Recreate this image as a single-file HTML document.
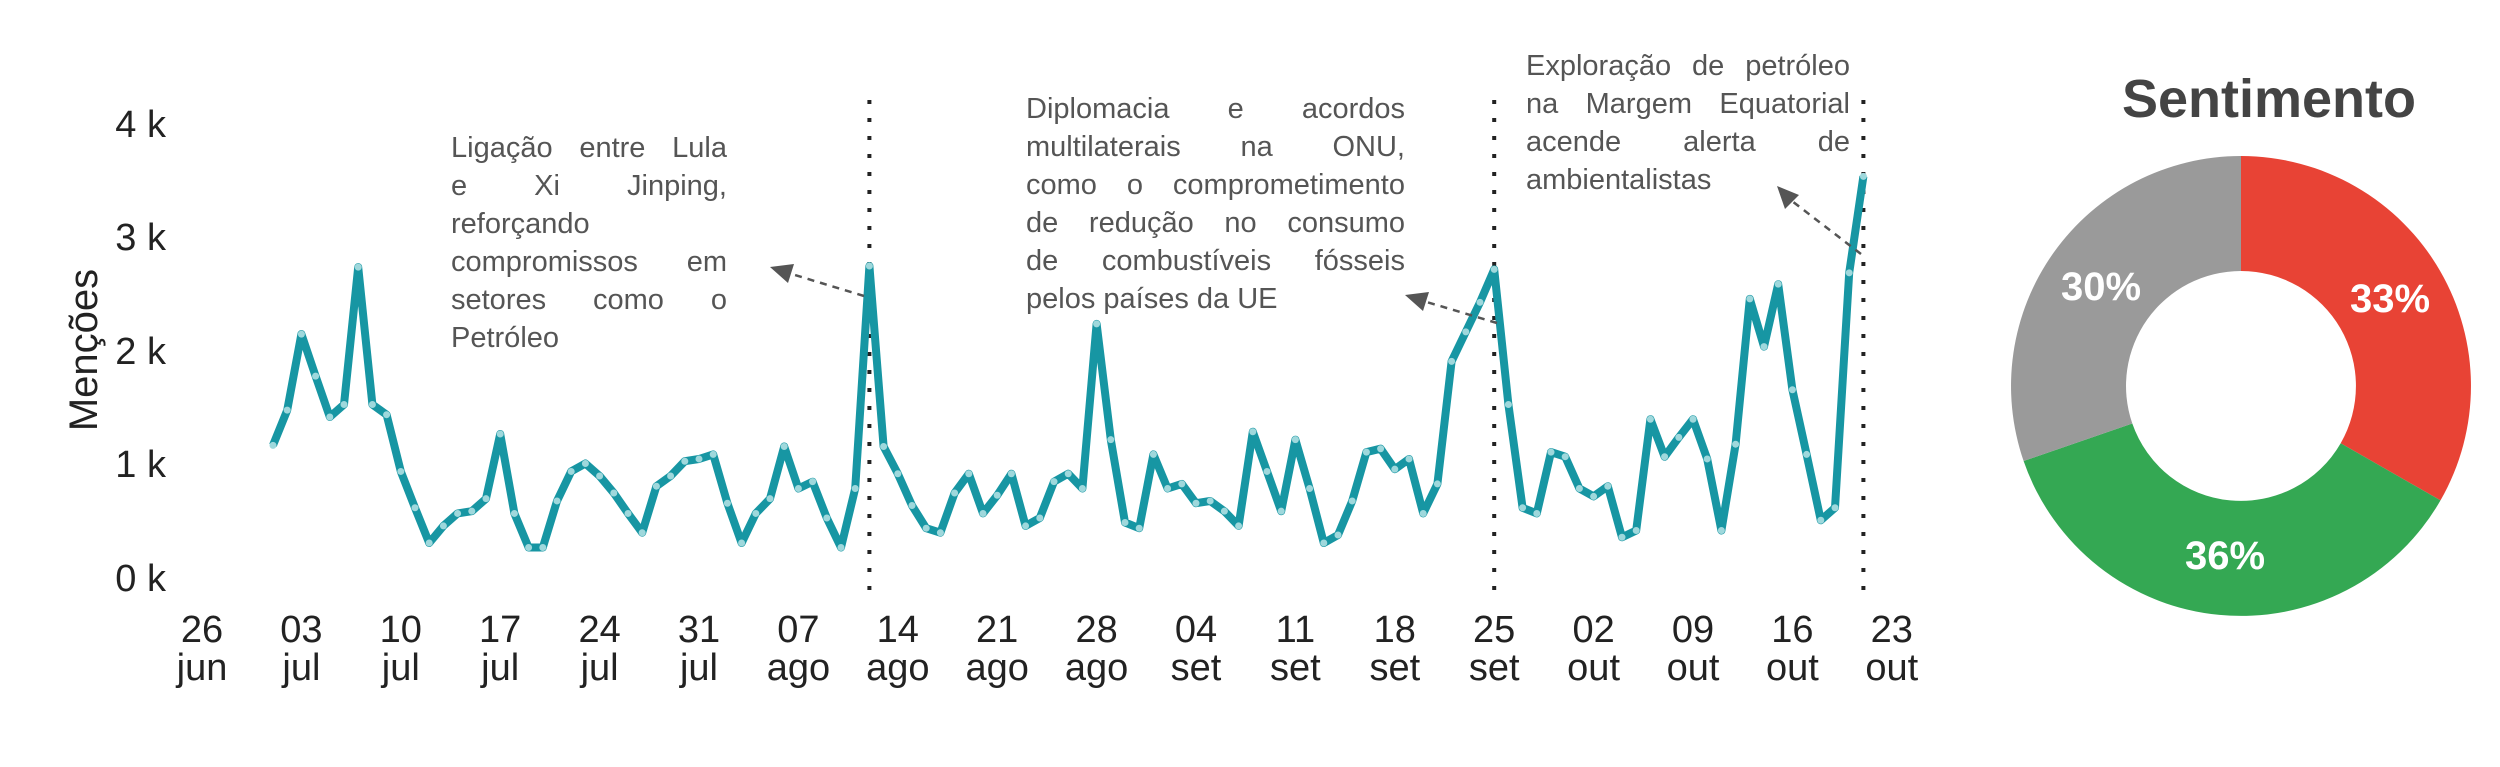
<!DOCTYPE html>
<html><head><meta charset="utf-8">
<style>
html,body{margin:0;padding:0;background:#fff;}
#wrap{position:relative;width:2500px;height:767px;overflow:hidden;font-family:"Liberation Sans",sans-serif;}
svg{position:absolute;left:0;top:0;}
.ann{position:absolute;color:#555;font-size:29px;line-height:38px;}
.ann div{text-align:justify;text-align-last:justify;white-space:nowrap;}
.ann div.l{text-align-last:left;}
</style></head><body>
<div id="wrap">
<svg id="s" width="2500" height="767" viewBox="0 0 2500 767" font-family="Liberation Sans, sans-serif">
<g font-size="38" fill="#222" text-anchor="end">
<text x="166" y="591">0 k</text>
<text x="166" y="477">1 k</text>
<text x="166" y="364">2 k</text>
<text x="166" y="250">3 k</text>
<text x="166" y="137">4 k</text>
</g>
<text transform="translate(97,350) rotate(-90)" font-size="40" fill="#222" text-anchor="middle">Menções</text>
<g id="xt" font-size="38" fill="#222" text-anchor="middle"></g>
<g id="vl" stroke="#222" stroke-width="4" stroke-dasharray="4 14" fill="none"></g>
<polyline id="ln" fill="none" stroke="#1796a3" stroke-width="8" stroke-linejoin="round" points=""/>
<g id="mk" fill="#9fd8dc"></g>
<g stroke="#555" stroke-width="2.5" stroke-dasharray="7 6" fill="none">
<line x1="864" y1="296" x2="785" y2="272"/>
<line x1="1497" y1="323" x2="1420" y2="300"/>
<line x1="1861" y1="254" x2="1788" y2="198"/>
</g>
<g fill="#555">
<polygon points="770,267 794,264 788,283"/>
<polygon points="1405,295 1429,292 1423,311"/>
<polygon points="1777,186 1799,195 1785,209"/>
</g>
<g transform="translate(2241,386)">
<path d="M0,-230 A230,230 0 0 1 199.5,114.4 L99.7,57.2 A115,115 0 0 0 0,-115 Z" fill="#e84335"/>
<path d="M199.5,114.4 A230,230 0 0 1 -217.4,75.0 L-108.7,37.5 A115,115 0 0 0 99.7,57.2 Z" fill="#34a853"/>
<path d="M-217.4,75.0 A230,230 0 0 1 0,-230 L0,-115 A115,115 0 0 0 -108.7,37.5 Z" fill="#9a9a9a"/>
</g>
<g font-size="40" font-weight="bold" fill="#fff" text-anchor="middle">
<text x="2390" y="312">33%</text>
<text x="2101" y="300">30%</text>
<text x="2225" y="569">36%</text>
</g>
<text x="2269" y="117" font-size="54" font-weight="bold" fill="#444" text-anchor="middle">Sentimento</text>
</svg>
<div class="ann" style="left:451px;top:129px;width:276px;">
<div>Ligação entre Lula</div><div>e Xi Jinping,</div><div class="l">reforçando</div><div>compromissos em</div><div>setores como o</div><div class="l">Petróleo</div>
</div>
<div class="ann" style="left:1026px;top:90px;width:379px;">
<div>Diplomacia e acordos</div><div>multilaterais na ONU,</div><div>como o comprometimento</div><div>de redução no consumo</div><div>de combustíveis fósseis</div><div class="l">pelos países da UE</div>
</div>
<div class="ann" style="left:1526px;top:47px;width:324px;">
<div>Exploração de petróleo</div><div>na Margem Equatorial</div><div>acende alerta de</div><div class="l">ambientalistas</div>
</div>
</div>
<script>
var v=[1.16,1.47,2.14,1.77,1.41,1.52,2.73,1.52,1.43,0.93,0.61,0.30,0.45,0.56,0.58,0.69,1.26,0.56,0.26,0.26,0.67,0.93,1.0,0.89,0.74,0.56,0.39,0.80,0.89,1.02,1.04,
1.08,0.65,0.30,0.56,0.69,1.15,0.78,0.84,0.52,0.26,0.78,2.74,1.15,0.91,0.63,0.43,0.39,0.74,0.91,0.56,0.72,0.91,0.45,0.52,0.84,0.91,0.78,2.23,1.21,0.48,0.43,
1.08,0.78,0.82,0.65,0.67,0.58,0.45,1.28,0.93,0.58,1.21,0.78,0.30,0.37,0.67,1.10,1.13,0.95,1.04,0.56,0.82,1.90,2.16,2.42,2.71,1.52,0.61,0.56,1.10,1.06,
0.78,0.71,0.80,0.35,0.41,1.39,1.06,1.23,1.39,1.04,0.41,1.17,2.45,2.03,2.58,1.65,1.08,0.50,0.61,2.68,3.53];
var NS="http://www.w3.org/2000/svg";
function X(d){return 202+d*14.2;}
function Y(a){return 577-a*113.5;}
var pts=[],mk=document.getElementById('mk');
for(var i=0;i<v.length;i++){var x=X(5+i),y=Y(v[i]);pts.push(x.toFixed(1)+','+y.toFixed(1));
var c=document.createElementNS(NS,'circle');c.setAttribute('cx',x);c.setAttribute('cy',y);c.setAttribute('r',3.5);mk.appendChild(c);}
document.getElementById('ln').setAttribute('points',pts.join(' '));
var lab=[["26","jun"],["03","jul"],["10","jul"],["17","jul"],["24","jul"],["31","jul"],["07","ago"],["14","ago"],["21","ago"],["28","ago"],["04","set"],["11","set"],["18","set"],["25","set"],["02","out"],["09","out"],["16","out"],["23","out"]];
var xt=document.getElementById('xt');
for(var j=0;j<lab.length;j++){var x=X(j*7);
for(var k=0;k<2;k++){var t=document.createElementNS(NS,'text');t.setAttribute('x',x);t.setAttribute('y',k?680:642);t.textContent=lab[j][k];xt.appendChild(t);}}
var vl=document.getElementById('vl');
[47,91,117].forEach(function(d){var l=document.createElementNS(NS,'line');var x=X(d);l.setAttribute('x1',x);l.setAttribute('x2',x);l.setAttribute('y1',100);l.setAttribute('y2',597);vl.appendChild(l);});
</script>
</body></html>
